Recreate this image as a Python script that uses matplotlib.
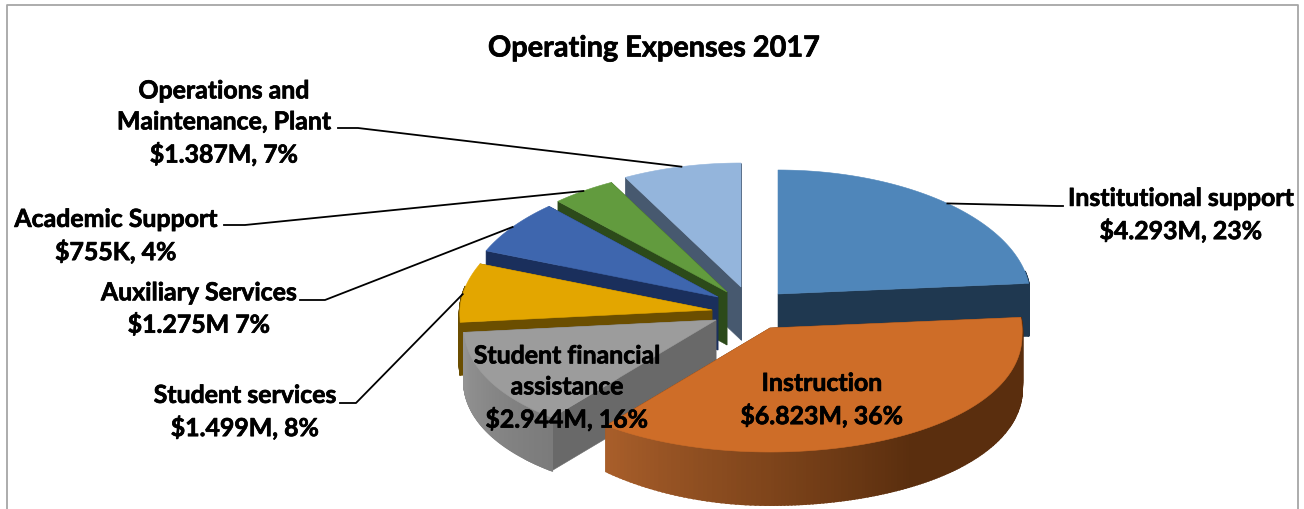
import numpy as np
import matplotlib
matplotlib.use("Agg")
import matplotlib.pyplot as plt
from matplotlib.colors import to_rgb
import matplotlib.patheffects as pe

# ---- data (clockwise from 12 o'clock)
categories = ["Institutional support", "Instruction", "Student financial\nassistance",
              "Student services", "Auxiliary Services", "Academic Support",
              "Operations and\nMaintenance, Plant"]
values_m = [4.293, 6.823, 2.944, 1.499, 1.275, 0.755, 1.387]
value_labels = ["$4.293M, 23%", "$6.823M, 36%", "$2.944M, 16%", "$1.499M, 8%",
                "$1.275M 7%", "$755K, 4%", "$1.387M, 7%"]
title = "Operating Expenses 2017"

# ---- style
top_colors = ["#4F86BA", "#CE6D28", "#9C9C9C", "#E3A600", "#3E66AE", "#629B3E", "#94B5DC"]
face_colors = ["#1F3850", "#5A2E0E", "#696969", "#6B4E00", "#1A2F5C", "#2C4A1A", "#47596F"]
side_stops = [["#1F3850", "#1F3850"],
              ["#5A2E0E", "#5A2E0E", "#5A2E0E", "#7C431A", "#A85E2A"],
              ["#7B7B7B", "#8A8A8A", "#949494"],
              ["#6B4E00", "#6B4E00"], ["#1A2F5C", "#1A2F5C"],
              ["#2C4A1A", "#2C4A1A"], ["#47596F", "#47596F"]]
apex_dx = [33, 25, -29, -33, -27, -18, -4]
apex_dy = [-13, 21, 13, 3, -10, -15, -20]
side_taper = [0, 17, 0, 0, 0, 0, 0]
CX, CY, RX, RY, DEPTH = 745, 308, 252, 124, 53
draw_order = [6, 5, 4, 3, 0, 2, 1]
text_color = "#000000"
font = "Lato"
FS = 17.9
STROKE = [pe.withStroke(linewidth=0.5, foreground="black")]

# (text x, text y, elbow x start, elbow x end, elbow y) -- label layout in pixels
label_layout = {
    0: (1181, 216, 1063, 1057, 207),
    1: (822, 401, None, None, None),
    2: (567, 389, None, None, None),
    3: (245, 413, 340, 356, 404),
    4: (199, 310, 300, 325, 301),
    5: (116, 237, 224, 245, 226),
    6: (224, 124, 338, 358, 129),
}

fig = plt.figure(figsize=(13.04, 5.10), dpi=100)
ax = fig.add_axes([0, 0, 1, 1])
ax.set_xlim(0, 1304)
ax.set_ylim(510, 0)
ax.axis("off")

ax.plot([6.5, 6.5, 1297.5, 1297.5], [510, 5.5, 5.5, 510], color="#A6A6A6", lw=1.3, zorder=1)

fracs = np.cumsum([0] + values_m) / sum(values_m)
angles = fracs * 2 * np.pi


def project(theta, i, r=1.0):
    """Map a pie angle (clockwise from top) to picture space, with a mild 3D look."""
    theta = np.asarray(theta, dtype=float)
    warp = np.where((theta > np.pi) & (theta < 1.5 * np.pi),
                    np.radians(11) * np.sin(2 * theta), 0.0)
    phi = theta + warp
    x = r * np.sin(phi)
    y = r * np.cos(phi)
    stretch = 1 + 0.04 * np.maximum(0, y)
    px = CX + apex_dx[i] + RX * x * stretch
    py = CY + apex_dy[i] - RY * y + 8 * x ** 2
    return px, py


def lerp_color(stops, t):
    pos = np.linspace(0, 1, len(stops))
    rgb = np.array([to_rgb(c) for c in stops])
    return tuple(np.interp(t, pos, rgb[:, k]) for k in range(3))


z = 2
for i in draw_order:
    a0, a1 = angles[i], angles[i + 1]
    th = np.linspace(a0, a1, 160)
    ax_, ay_ = project(0.0, i, 0.0)
    ox, oy = project(th, i)
    depth = DEPTH - side_taper[i] * np.where(ox < ax_, ((ox - ax_) / RX) ** 2, 0.0)
    # radial faces
    for end in (-1, 0):
        ax.fill([ax_, ox[end], ox[end], ax_], [ay_, oy[end], oy[end] + depth[end], ay_ + DEPTH],
                color=face_colors[i], lw=0.4, zorder=z)
    z += 1
    # outer curved wall, as thin strips
    for k in range(len(th) - 1):
        if np.cos(th[k]) > 0.25:
            continue
        c = lerp_color(side_stops[i], k / (len(th) - 2))
        ax.fill([ox[k], ox[k + 1], ox[k + 1], ox[k]],
                [oy[k], oy[k + 1], oy[k + 1] + depth[k + 1], oy[k] + depth[k]],
                color=c, lw=1.4, zorder=z)
    z += 1
    # top
    ax.fill(np.r_[ax_, ox], np.r_[ay_, oy], color=top_colors[i], lw=0.4, zorder=z)
    z += 1

# leader lines end at the middle of each slice's rim
for i, lay in label_layout.items():
    if lay[2] is None:
        continue
    ex, ey = project((angles[i] + angles[i + 1]) / 2, i)
    ax.plot([lay[2], lay[3], ex], [lay[4], lay[4], ey], color="black", lw=1.3,
            solid_joinstyle="round", zorder=z + 1)

for i, lay in label_layout.items():
    ax.text(lay[0], lay[1], categories[i] + "\n" + value_labels[i], ha="center", va="center",
            family=font, weight="bold", fontsize=FS, color=text_color, linespacing=1.42,
            zorder=z + 2, path_effects=STROKE)

ax.text(654, 49.5, title, ha="center", va="center", family=font, weight="bold",
        fontsize=20.8, color=text_color, zorder=z + 2, path_effects=STROKE)

fig.savefig("out.png", dpi=100)
